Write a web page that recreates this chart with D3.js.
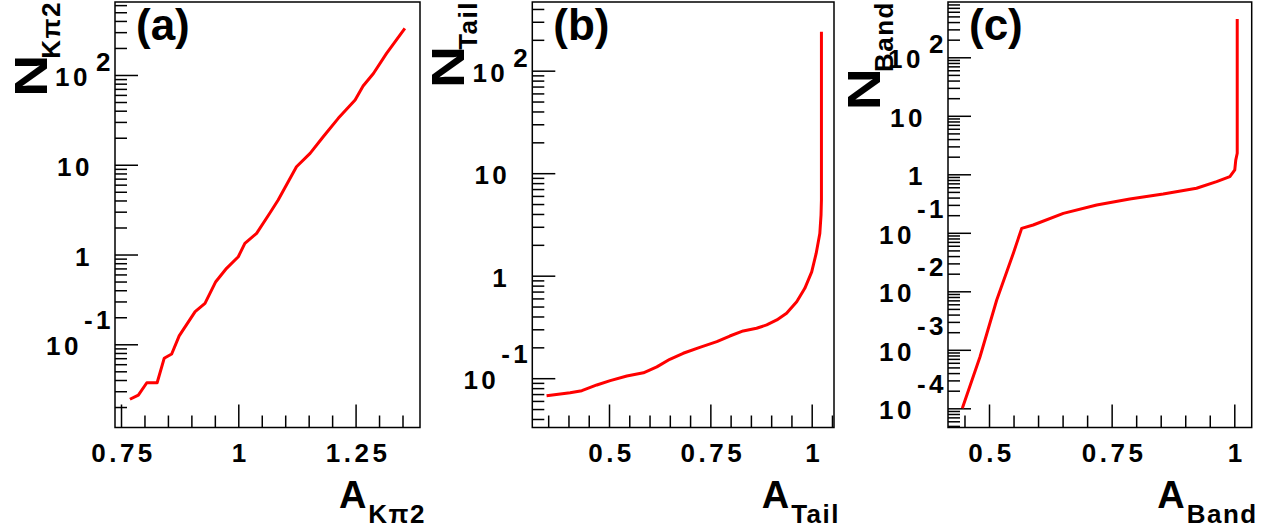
<!DOCTYPE html>
<html>
<head>
<meta charset="utf-8">
<script src="https://cdn.jsdelivr.net/npm/d3@7"></script>
<style>
  body { margin: 0; background: #fff; }
  svg text { font-family: "Liberation Sans", Arial, sans-serif; font-weight: bold; fill: #000; }
</style>
</head>
<body>
<script>
// ---- data ----
// (a) K pi2
var aKpi2 = [0.769, 0.787, 0.805, 0.827, 0.842, 0.858, 0.874, 0.908, 0.929, 0.952, 0.975, 1.000, 1.014,
  1.039, 1.067, 1.085, 1.124, 1.153, 1.181, 1.213, 1.249, 1.266, 1.288, 1.316, 1.355];
var nKpi2 = [0.0244, 0.0272, 0.0373, 0.0373, 0.0698, 0.0779, 0.124, 0.231, 0.286, 0.498, 0.702, 0.945, 1.33,
  1.72, 2.88, 4.05, 9.51, 13.4, 20.5, 32.9, 52.6, 75.3, 104, 174, 331];
// (b) Tail
var aTail = [0.346, 0.404, 0.433, 0.470, 0.503, 0.544, 0.585, 0.618, 0.650, 0.683, 0.724, 0.766, 0.798,
  0.831, 0.864, 0.889, 0.914, 0.938, 0.963, 0.983, 1.000, 1.011, 1.020, 1.023, 1.024, 1.024];
var nTail = [0.0675, 0.0722, 0.0755, 0.0859, 0.0946, 0.105, 0.113, 0.129, 0.153, 0.175, 0.200, 0.227, 0.258,
  0.289, 0.307, 0.331, 0.370, 0.430, 0.557, 0.753, 1.09, 1.65, 2.58, 3.9, 5.48, 240];
// (c) Band
var aBand = [0.4456, 0.4817, 0.5157, 0.5496, 0.5666, 0.590, 0.6515, 0.7195, 0.787, 0.855, 0.923, 0.964,
  0.991, 1.001, 1.003, 1.006, 1.006];
var nBand = [1.0e-4, 7.6e-4, 7.1e-3, 0.0447, 0.119, 0.136, 0.215, 0.299, 0.378, 0.460, 0.577, 0.748,
  0.910, 1.19, 1.75, 2.29, 452];

// tick labels
var xLabelsA = [0.75, 1, 1.25];
var xLabelsB = [0.5, 0.75, 1];
var xLabelsC = [0.5, 0.75, 1];
var decadesA = [-1, 0, 1, 2];
var decadesB = [-1, 0, 1, 2];
var decadesC = [-4, -3, -2, -1, 0, 1, 2];

// ---- layout ----
var W = 1261, H = 531;
var frameTop = 2, frameBottom = 427.5;
var labelSize = "26px", labelSpacing = "3.5px";

var panels = [
  {tag: "(a)", xs: aKpi2, ys: nKpi2, xLabels: xLabelsA, decades: decadesA, sub: "K\u03c02",
    left: 115, right: 420, xDom: [0.7372, 1.3873], yDom: [-1.927, 2.813]},
  {tag: "(b)", xs: aTail, ys: nTail, xLabels: xLabelsB, decades: decadesB, sub: "Tail",
    left: 532.3, right: 834, xDom: [0.3108, 1.055], yDom: [-1.481, 2.670]},
  {tag: "(c)", xs: aBand, ys: nBand, xLabels: xLabelsC, decades: decadesC, sub: "Band",
    left: 948, right: 1251.7, xDom: [0.4164, 1.0355], yDom: [-4.328, 2.945]}
];

var svg = d3.select("body").append("svg")
  .attr("width", W)
  .attr("height", H);

panels.forEach(function (p, i) {
  var x = d3.scaleLinear().domain(p.xDom).range([p.left, p.right]);
  var y = d3.scaleLog()
    .domain([Math.pow(10, p.yDom[0]), Math.pow(10, p.yDom[1])])
    .range([frameBottom, frameTop]);

  var g = svg.append("g").attr("class", "panel");

  // clip for the curve
  g.append("clipPath").attr("id", "clip" + i)
    .append("rect")
    .attr("x", p.left).attr("y", frameTop)
    .attr("width", p.right - p.left).attr("height", frameBottom - frameTop);

  // x ticks, minor every 0.05
  var minorX = d3.range(Math.ceil(p.xDom[0] / 0.05 - 1e-6), Math.floor(p.xDom[1] / 0.05 + 1e-6) + 1)
    .map(function (k) { return +(k * 0.05).toFixed(2); })
    .filter(function (v) { return p.xLabels.indexOf(v) < 0; });

  var xMinor = g.append("g")
    .attr("transform", "translate(0," + frameBottom + ")")
    .call(d3.axisBottom(x).tickValues(minorX).tickSize(-12).tickFormat(""));
  var xMajor = g.append("g")
    .attr("transform", "translate(0," + frameBottom + ")")
    .call(d3.axisBottom(x).tickValues(p.xLabels).tickSize(-23).tickPadding(16)
      .tickFormat(function (d) { return String(d); }));

  // y ticks: decades long, 2..9 short
  var lo = Math.floor(p.yDom[0]), hi = Math.ceil(p.yDom[1]);
  var minorY = [], majorY = [];
  for (var e = lo; e <= hi; e++) {
    var base = Math.pow(10, e);
    if (e >= p.yDom[0] && e <= p.yDom[1]) majorY.push(base);
    for (var k = 2; k <= 9; k++) {
      var v = k * base;
      if (Math.log10(v) >= p.yDom[0] && Math.log10(v) <= p.yDom[1]) minorY.push(v);
    }
  }
  var yMinor = g.append("g")
    .attr("transform", "translate(" + p.left + ",0)")
    .call(d3.axisLeft(y).tickValues(minorY).tickSize(-12).tickFormat(""));
  var yMajor = g.append("g")
    .attr("transform", "translate(" + p.left + ",0)")
    .call(d3.axisLeft(y).tickValues(majorY).tickSize(-23).tickFormat(""));

  [xMinor, xMajor, yMinor, yMajor].forEach(function (ax) {
    ax.select(".domain").remove();
    ax.selectAll(".tick line").attr("stroke", "#000").attr("stroke-width", 1.5);
  });
  xMajor.attr("font-family", null).attr("font-size", null);
  xMajor.selectAll(".tick text")
    .style("font-size", labelSize)
    .style("letter-spacing", labelSpacing)
    .attr("dx", "2px");

  // y labels: 1, 10 plain; others as 10 with exponent
  p.decades.forEach(function (e) {
    var ty = y(Math.pow(10, e));
    if (e === 0 || e === 1) {
      g.append("text")
        .attr("x", p.left - 22).attr("y", ty + 11)
        .attr("text-anchor", "end")
        .style("font-size", labelSize).style("letter-spacing", labelSpacing)
        .text(e === 0 ? "1" : "10");
    } else {
      var neg = e < 0;
      g.append("text")
        .attr("x", p.left - (neg ? 33 : 24)).attr("y", ty + 11)
        .attr("text-anchor", "end")
        .style("font-size", labelSize).style("letter-spacing", labelSpacing)
        .text("10");
      g.append("text")
        .attr("x", p.left - 1).attr("y", ty - (neg ? 15 : 4))
        .attr("text-anchor", "end")
        .style("font-size", labelSize).style("letter-spacing", labelSpacing)
        .text(String(e));
    }
  });

  // frame
  g.append("rect")
    .attr("x", p.left).attr("y", frameTop)
    .attr("width", p.right - p.left).attr("height", frameBottom - frameTop)
    .attr("fill", "none").attr("stroke", "#000").attr("stroke-width", 1.5);

  // curve
  var pts = p.xs.map(function (a, j) { return [a, p.ys[j]]; });
  var line = d3.line()
    .x(function (d) { return x(d[0]); })
    .y(function (d) { return y(d[1]); });
  g.append("path")
    .datum(pts)
    .attr("clip-path", "url(#clip" + i + ")")
    .attr("fill", "none")
    .attr("stroke", "#ff0000")
    .attr("stroke-width", 3)
    .attr("stroke-linejoin", "round")
    .attr("d", line);

  // panel tag
  g.append("text")
    .attr("x", p.left + 21).attr("y", 40)
    .style("font-size", "44px")
    .text(p.tag);

  // x title
  var xt = g.append("text")
    .attr("x", p.right + 6).attr("y", 508)
    .attr("text-anchor", "end");
  xt.append("tspan").style("font-size", "38px").text("A");
  xt.append("tspan").attr("dx", 2).attr("dy", 15)
    .style("font-size", "26px").style("letter-spacing", "1.5px").text(p.sub);

  // y title, rotated; N drawn a bit wider like the original
  var yg = g.append("g")
    .attr("transform", "translate(" + (p.left - 68) + ",1) rotate(-90)");
  var ysub = yg.append("text")
    .attr("x", 0).attr("y", 13)
    .attr("text-anchor", "end")
    .style("font-size", "26px").style("letter-spacing", "1.5px")
    .text(p.sub);
  var subLen = ysub.node().getComputedTextLength();
  yg.append("text")
    .attr("transform", "translate(" + (-(subLen - 4)) + ",0) scale(1.25,1)")
    .attr("text-anchor", "end")
    .style("font-size", "47px")
    .text("N");
});
</script>
</body>
</html>
